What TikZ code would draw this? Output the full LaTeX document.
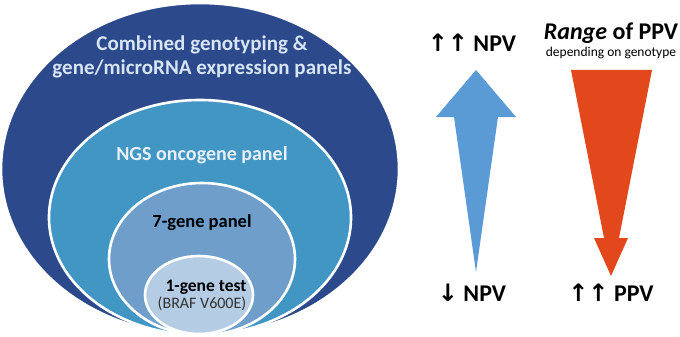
\documentclass[tikz,border=0pt]{standalone}
\usepackage{fontspec}
\setmainfont{Carlito}
\newfontfamily\arrowfont{DejaVu Sans}

\definecolor{outerblue}{HTML}{2C4A8B}
\definecolor{ngsblue}{HTML}{4196C3}
\definecolor{sevenblue}{HTML}{6E9EC9}
\definecolor{oneblue}{HTML}{B4CCE4}
\definecolor{paletext}{HTML}{D6E4F4}
\definecolor{npvblue}{HTML}{5B9BD5}
\definecolor{ppvred}{HTML}{E2481B}

\tikzset{
  panel/.style={draw=white, line width=2.6pt},
  paneltext/.style={font=\bfseries\fontsize{21}{24}\selectfont, align=center, inner sep=0pt},
  sidetext/.style={font=\bfseries\fontsize{24}{27}\selectfont, inner sep=0pt}
}

\begin{document}
\begin{tikzpicture}[x=1pt,y=-1pt]
        \useasboundingbox (0,0) rectangle (680,337);
        % Draw nested panels
        \fill[outerblue][panel] (200,169) ellipse [x radius=199, y radius=166];
        \fill[ngsblue][panel] (200,217.5) ellipse [x radius=151, y radius=117.5];
        \fill[sevenblue][panel] (202,259) ellipse [x radius=93, y radius=76];
        \fill[oneblue][panel] (199,295) ellipse [x radius=54, y radius=39];
        % Add panel labels
        \node[paneltext][text=paletext] (combined) at (202,57) {Combined genotyping \&\\[0pt]gene/microRNA expression panels};
        \node[paneltext][text=paletext!60!white][font=\bfseries\fontsize{20}{23}\selectfont] (ngs) at (202,155) {NGS oncogene panel};
        \node[paneltext][text=black][font=\bfseries\fontsize{18.5}{21}\selectfont] (seven) at (202,223) {7-gene panel};
        \node[paneltext][text=black][font=\bfseries\fontsize{17.5}{20}\selectfont] (one) at (206,287) {1-gene test};
        \node[paneltext][text=black!80][font=\fontsize{16}{18}\selectfont] (braf) at (202,304) {(BRAF V600E)};

        % Draw NPV arrow
        \fill[npvblue] (476,70) -- (516,117) -- (498,117) -- (476,272) -- (454,117) -- (436,117) -- cycle;
        % Draw PPV arrow
        \fill[ppvred] (571,70) -- (652,70) -- (619,238) -- (628,238) -- (611,276) -- (594,238) -- (604,238) -- cycle;

        % Add NPV and PPV labels
        \node[sidetext] (npvtop) at (472,43) {{\arrowfont\fontsize{24}{27}\selectfont↑↑} NPV};
        \node[sidetext] (npvbottom) at (472,293) {{\arrowfont\fontsize{24}{27}\selectfont↓} NPV};
        \node[sidetext] (range) at (611,33) {\textit{Range} of PPV};
        \node[inner sep=0pt][font=\fontsize{13.5}{15}\selectfont] (depending) at (611,53) {depending on genotype};
        \node[sidetext] (ppvbottom) at (611,293) {{\arrowfont\fontsize{24}{27}\selectfont↑↑} PPV};
    \end{tikzpicture}
\end{document}
